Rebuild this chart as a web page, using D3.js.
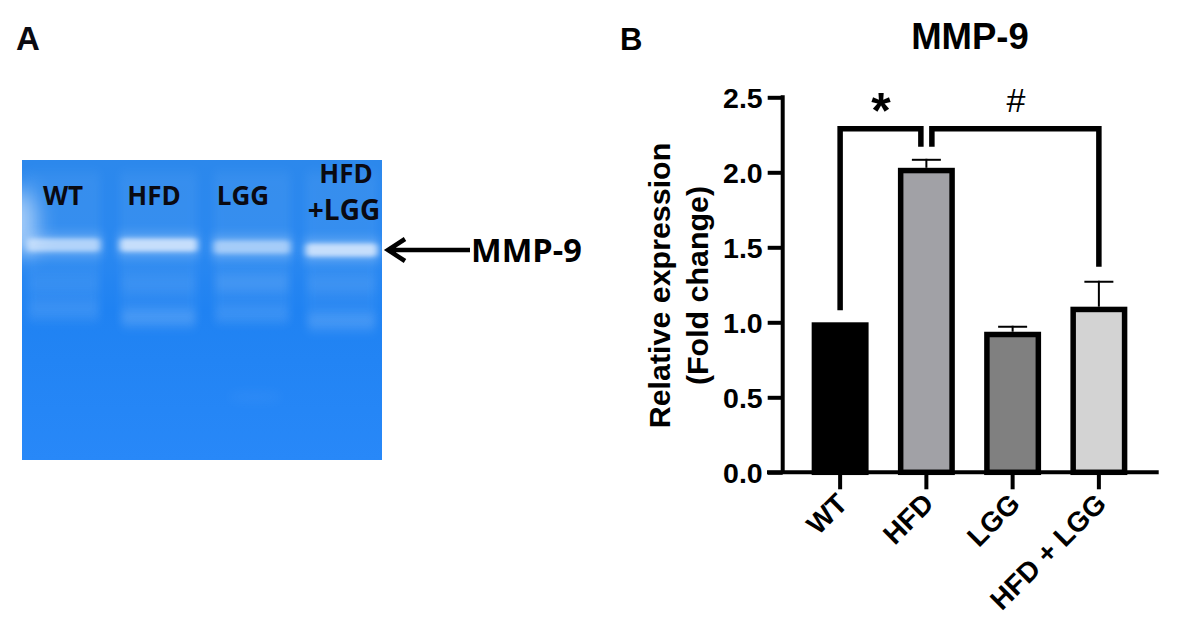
<!DOCTYPE html>
<html>
<head>
<meta charset="utf-8">
<script src="https://cdnjs.cloudflare.com/ajax/libs/d3/7.8.5/d3.min.js"></script>
<style>
html,body{margin:0;padding:0;background:#fff;overflow:hidden}
svg{display:block}
.chart text{font-family:"Liberation Sans",Arial,sans-serif;font-weight:700;fill:#000}
.gel text{font-family:"Open Sans",sans-serif;font-weight:700;fill:#0a0a12}
</style>
</head>
<body>
<svg id="fig" width="1183" height="642"></svg>
<script>
// Panel B: bar chart data
const categories = ["WT", "HFD", "LGG", "HFD + LGG"];
const means = [1.0, 2.03, 0.937, 1.104];
const errTops = [null, 2.09, 0.977, 1.277];
const fills = ["#000000", "#a1a1a6", "#808080", "#d3d3d3"];
const yTicks = [0, 0.5, 1.0, 1.5, 2.0, 2.5];
// Significance bracket levels
const bracketTop = 2.29;
const bracketWT = 1.08;
const bracketHFD = 2.17;
const bracketCombo = 1.37;

// Panel A: gel data
const laneLabels = ["WT", "HFD", "LGG"];
const laneLabelX = [63, 154, 243];
const laneX0 = [27, 120, 214, 306];
const laneX1 = [100, 197, 290, 377];
const mainBandY = [245, 245, 247, 250];
const mainBandOpacity = [0.55, 0.7, 0.45, 0.7];
const upperSmearY = [284, 284, 283, 284];
const upperSmearOpacity = [0.04, 0.06, 0.1, 0.07];
const lowerSmearY = [309, 318, 314, 322];
const lowerSmearOpacity = [0.07, 0.15, 0.08, 0.15];

const svg = d3.select("#fig");
const defs = svg.append("defs");
defs.append("filter").attr("id", "b2").attr("x", "-20%").attr("y", "-100%").attr("width", "140%").attr("height", "300%")
  .append("feGaussianBlur").attr("stdDeviation", "3 2.2");
defs.append("filter").attr("id", "b5").attr("x", "-20%").attr("y", "-100%").attr("width", "140%").attr("height", "300%")
  .append("feGaussianBlur").attr("stdDeviation", "4 6");
defs.append("filter").attr("id", "b14").attr("x", "-200%").attr("y", "-100%").attr("width", "500%").attr("height", "300%")
  .append("feGaussianBlur").attr("stdDeviation", "11");
const gelGrad = defs.append("linearGradient").attr("id", "gelBg").attr("x1", 0).attr("x2", 0).attr("y1", 0).attr("y2", 1);
[[0, "#2c88ec"], [0.3, "#2a88f0"], [0.5, "#1f82f2"], [1, "#2888f8"]].forEach(s =>
  gelGrad.append("stop").attr("offset", s[0]).attr("stop-color", s[1]));
defs.append("clipPath").attr("id", "gelClip").append("rect")
  .attr("x", 22).attr("y", 160).attr("width", 360).attr("height", 300);

// ---- Panel A ----
const gel = svg.append("g").attr("class", "gel");
gel.append("text").attr("x", 16).attr("y", 50).text("A")
  .style("font-family", "'Liberation Sans',Arial,sans-serif").style("font-size", "33px");
const gelImg = gel.append("g").attr("clip-path", "url(#gelClip)");
gelImg.append("rect").attr("x", 22).attr("y", 160).attr("width", 360).attr("height", 300).attr("fill", "url(#gelBg)");
gelImg.append("ellipse").attr("cx", 18).attr("cy", 222).attr("rx", 18).attr("ry", 34)
  .attr("fill", "#fff").attr("opacity", 0.6).attr("filter", "url(#b14)");
// lane smears above and below main band
laneX0.forEach((x0, i) => {
  const w = laneX1[i] - x0;
  gelImg.append("rect").attr("x", x0).attr("y", 172).attr("width", w).attr("height", 150)
    .attr("fill", "#fff").attr("opacity", 0.05).attr("filter", "url(#b5)");
  gelImg.append("rect").attr("x", x0 + 2).attr("y", upperSmearY[i] - 8).attr("width", w - 4).attr("height", 16)
    .attr("fill", "#fff").attr("opacity", upperSmearOpacity[i]).attr("filter", "url(#b5)");
  gelImg.append("rect").attr("x", x0 + 2).attr("y", lowerSmearY[i] - 8).attr("width", w - 4).attr("height", 16)
    .attr("fill", "#fff").attr("opacity", lowerSmearOpacity[i]).attr("filter", "url(#b5)");
  gelImg.append("rect").attr("x", x0 - 2).attr("y", mainBandY[i] - 10).attr("width", w + 4).attr("height", 20)
    .attr("fill", "#fff").attr("opacity", 0.28).attr("filter", "url(#b5)");
  gelImg.append("rect").attr("x", x0).attr("y", mainBandY[i] - 6.5).attr("width", w).attr("height", 13)
    .attr("rx", 4).attr("fill", "#eef4ff").attr("opacity", mainBandOpacity[i]).attr("filter", "url(#b2)");
});
gelImg.append("ellipse").attr("cx", 255).attr("cy", 397).attr("rx", 28).attr("ry", 4)
  .attr("fill", "#fff").attr("opacity", 0.05).attr("filter", "url(#b5)");
gel.selectAll("text.lane").data(laneLabels).join("text").attr("class", "lane")
  .attr("x", (d, i) => laneLabelX[i]).attr("y", 205).attr("text-anchor", "middle")
  .style("font-size", "26px").text(d => d);
gel.append("text").attr("x", 346).attr("y", 183).attr("text-anchor", "middle").style("font-size", "26px").text("HFD");
gel.append("text").attr("x", 344).attr("y", 220).attr("text-anchor", "middle").style("font-size", "28px").text("+LGG");
// arrow
const arrowPath = d3.path();
arrowPath.moveTo(470, 250); arrowPath.lineTo(390, 250);
arrowPath.moveTo(405, 239); arrowPath.lineTo(388, 250); arrowPath.lineTo(405, 261);
gel.append("path").attr("d", arrowPath.toString()).attr("fill", "none").attr("stroke", "#000").attr("stroke-width", 4.5);
gel.append("text").attr("x", 471).attr("y", 262).style("font-size", "32.5px").style("fill", "#000").text("MMP-9");

// ---- Panel B ----
const chart = svg.append("g").attr("class", "chart");
const x = d3.scaleBand().domain(categories).range([797, 1142]).paddingInner(0.34).paddingOuter(0.17);
const y = d3.scaleLinear().domain([0, 2.5]).range([472.3, 97.3]);
const cx = c => x(c) + x.bandwidth() / 2;
const axisX0 = 782.7;
const sw = 5.5;

chart.append("text").attr("x", 620).attr("y", 50).style("font-size", "31px").text("B");
chart.append("text").attr("x", 970).attr("y", 49).attr("text-anchor", "middle").style("font-size", "36.5px").text("MMP-9");

// error bars
chart.selectAll("g.err").data(categories.filter((c, i) => errTops[i] != null)).join("g").attr("class", "err")
  .each(function (c) {
    const i = categories.indexOf(c), g = d3.select(this);
    g.append("line").attr("x1", cx(c)).attr("x2", cx(c)).attr("y1", y(means[i])).attr("y2", y(errTops[i]))
      .attr("stroke", "#000").attr("stroke-width", 2);
    g.append("line").attr("x1", cx(c) - 14.5).attr("x2", cx(c) + 14.5).attr("y1", y(errTops[i]) + 1).attr("y2", y(errTops[i]) + 1)
      .attr("stroke", "#000").attr("stroke-width", 2);
  });
// bars
chart.selectAll("rect.bar").data(categories).join("rect").attr("class", "bar")
  .attr("x", c => x(c) + sw / 2)
  .attr("width", x.bandwidth() - sw)
  .attr("y", (c, i) => y(means[i]) + sw / 2)
  .attr("height", (c, i) => y(0) - y(means[i]) - sw / 2)
  .attr("fill", (c, i) => fills[i])
  .attr("stroke", "#000").attr("stroke-width", sw);

// y axis
const yAxis = d3.axisLeft(y).tickValues(yTicks).tickFormat(d3.format(".1f")).tickSize(15).tickPadding(5);
const gy = chart.append("g").attr("transform", `translate(${axisX0},0)`).call(yAxis);
gy.select(".domain").attr("stroke", "#000").attr("stroke-width", 4).attr("d", `M0,${y(2.5) - 2}V${y(0)}`);
gy.selectAll(".tick line").attr("stroke", "#000").attr("stroke-width", 4);
gy.selectAll(".tick text").style("font-size", "28.5px").attr("dy", "0.36em");

// x axis
const xAxis = d3.axisBottom(x).tickSize(17).tickSizeOuter(0).tickFormat("");
const gx = chart.append("g").attr("transform", `translate(0,${y(0)})`).call(xAxis);
gx.select(".domain").attr("stroke", "#000").attr("stroke-width", 4).attr("d", `M767,0H1158.7`);
gx.selectAll(".tick line").attr("stroke", "#000").attr("stroke-width", 4);
gx.selectAll(".tick").append("text")
  .attr("text-anchor", "end").attr("fill", "#000")
  .attr("transform", "translate(9,33) rotate(-45)")
  .style("font-size", "28px").text(d => d);

// axis label
const ylab = chart.append("text").attr("text-anchor", "middle").attr("transform", "translate(670,285.5) rotate(-90)").style("font-size", "30.4px");
ylab.append("tspan").attr("x", 0).attr("y", 0).text("Relative expression");
ylab.append("tspan").attr("x", 0).attr("y", 38).text("(Fold change)");

// brackets
const pLeft = d3.path();
pLeft.moveTo(cx("WT"), y(bracketWT));
pLeft.lineTo(cx("WT"), y(bracketTop));
pLeft.lineTo(cx("HFD") - 5.5, y(bracketTop));
pLeft.lineTo(cx("HFD") - 5.5, y(bracketHFD));
const pRight = d3.path();
pRight.moveTo(cx("HFD") + 5.5, y(bracketHFD));
pRight.lineTo(cx("HFD") + 5.5, y(bracketTop));
pRight.lineTo(cx("HFD + LGG"), y(bracketTop));
pRight.lineTo(cx("HFD + LGG"), y(bracketCombo));
chart.selectAll("path.bracket").data([pLeft.toString(), pRight.toString()]).join("path").attr("class", "bracket")
  .attr("d", d => d).attr("fill", "none").attr("stroke", "#000").attr("stroke-width", sw).attr("stroke-linejoin", "miter");
chart.append("text").attr("x", 881).attr("y", 128).attr("text-anchor", "middle").style("font-size", "50px").text("*");
chart.append("text").attr("x", 1016).attr("y", 112).attr("text-anchor", "middle").style("font-size", "34px").style("font-weight", "400").text("#");
</script>
</body>
</html>
